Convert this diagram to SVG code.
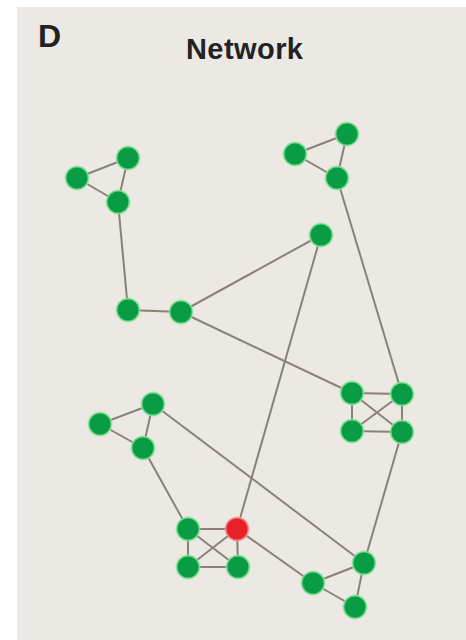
<svg xmlns="http://www.w3.org/2000/svg" width="466" height="640" viewBox="0 0 466 640">
<style>
.e{stroke:#8b8178;stroke-width:2;fill:none}
.n{fill:#0a9c45;stroke:#8fe89c;stroke-width:2;stroke-opacity:0.7}
.r{fill:#e8202a;stroke:#f39a9a;stroke-width:2;stroke-opacity:0.7}
.t{font-family:"Liberation Sans",Arial,sans-serif;font-weight:bold;fill:#222}
</style>
<rect x="0" y="0" width="466" height="640" fill="#ffffff"/>
<rect x="17" y="7" width="449" height="633" fill="#ece8e3"/>
<text class="t" x="38" y="47" font-size="32">D</text>
<text class="t" x="186" y="59" font-size="29" textLength="117">Network</text>
<g id="connectors">
<line class="e" x1="77" y1="178" x2="128" y2="158"/>
<line class="e" x1="77" y1="178" x2="118" y2="202"/>
<line class="e" x1="128" y1="158" x2="118" y2="202"/>
<line class="e" x1="118" y1="202" x2="128" y2="310"/>
<line class="e" x1="128" y1="310" x2="181" y2="312"/>
<line class="e" x1="181" y1="312" x2="321" y2="235"/>
<line class="e" x1="181" y1="312" x2="352" y2="393"/>
<line class="e" x1="295" y1="154" x2="347" y2="134"/>
<line class="e" x1="295" y1="154" x2="337" y2="178"/>
<line class="e" x1="347" y1="134" x2="337" y2="178"/>
<line class="e" x1="337" y1="178" x2="402" y2="394"/>
<line class="e" x1="321" y1="235" x2="237" y2="529"/>
<line class="e" x1="352" y1="393" x2="402" y2="394"/>
<line class="e" x1="352" y1="431" x2="402" y2="432"/>
<line class="e" x1="352" y1="393" x2="352" y2="431"/>
<line class="e" x1="402" y1="394" x2="402" y2="432"/>
<line class="e" x1="352" y1="393" x2="402" y2="432"/>
<line class="e" x1="402" y1="394" x2="352" y2="431"/>
<line class="e" x1="402" y1="432" x2="364" y2="563"/>
<line class="e" x1="100" y1="424" x2="153" y2="404"/>
<line class="e" x1="100" y1="424" x2="143" y2="448"/>
<line class="e" x1="153" y1="404" x2="143" y2="448"/>
<line class="e" x1="143" y1="448" x2="188" y2="529"/>
<line class="e" x1="153" y1="404" x2="364" y2="563"/>
<line class="e" x1="188" y1="529" x2="237" y2="529"/>
<line class="e" x1="188" y1="567" x2="238" y2="567"/>
<line class="e" x1="188" y1="529" x2="188" y2="567"/>
<line class="e" x1="237" y1="529" x2="238" y2="567"/>
<line class="e" x1="188" y1="529" x2="238" y2="567"/>
<line class="e" x1="237" y1="529" x2="188" y2="567"/>
<line class="e" x1="237" y1="529" x2="313" y2="583"/>
<line class="e" x1="313" y1="583" x2="364" y2="563"/>
<line class="e" x1="313" y1="583" x2="355" y2="607"/>
<line class="e" x1="364" y1="563" x2="355" y2="607"/>
</g>
<g id="n1"><circle class="n" cx="77" cy="178" r="11.5"/></g>
<g id="n2"><circle class="n" cx="128" cy="158" r="11.5"/></g>
<g id="n3"><circle class="n" cx="118" cy="202" r="11.5"/></g>
<g id="n4"><circle class="n" cx="128" cy="310" r="11.5"/></g>
<g id="n5"><circle class="n" cx="181" cy="312" r="11.5"/></g>
<g id="n6"><circle class="n" cx="295" cy="154" r="11.5"/></g>
<g id="n7"><circle class="n" cx="347" cy="134" r="11.5"/></g>
<g id="n8"><circle class="n" cx="337" cy="178" r="11.5"/></g>
<g id="n9"><circle class="n" cx="321" cy="235" r="11.5"/></g>
<g id="n10"><circle class="n" cx="352" cy="393" r="11.5"/></g>
<g id="n11"><circle class="n" cx="402" cy="394" r="11.5"/></g>
<g id="n12"><circle class="n" cx="352" cy="431" r="11.5"/></g>
<g id="n13"><circle class="n" cx="402" cy="432" r="11.5"/></g>
<g id="n14"><circle class="n" cx="100" cy="424" r="11.5"/></g>
<g id="n15"><circle class="n" cx="153" cy="404" r="11.5"/></g>
<g id="n16"><circle class="n" cx="143" cy="448" r="11.5"/></g>
<g id="n17"><circle class="n" cx="188" cy="529" r="11.5"/></g>
<g id="n18"><circle class="r" cx="237" cy="529" r="11.5"/></g>
<g id="n19"><circle class="n" cx="188" cy="567" r="11.5"/></g>
<g id="n20"><circle class="n" cx="238" cy="567" r="11.5"/></g>
<g id="n21"><circle class="n" cx="313" cy="583" r="11.5"/></g>
<g id="n22"><circle class="n" cx="364" cy="563" r="11.5"/></g>
<g id="n23"><circle class="n" cx="355" cy="607" r="11.5"/></g>
</svg>
